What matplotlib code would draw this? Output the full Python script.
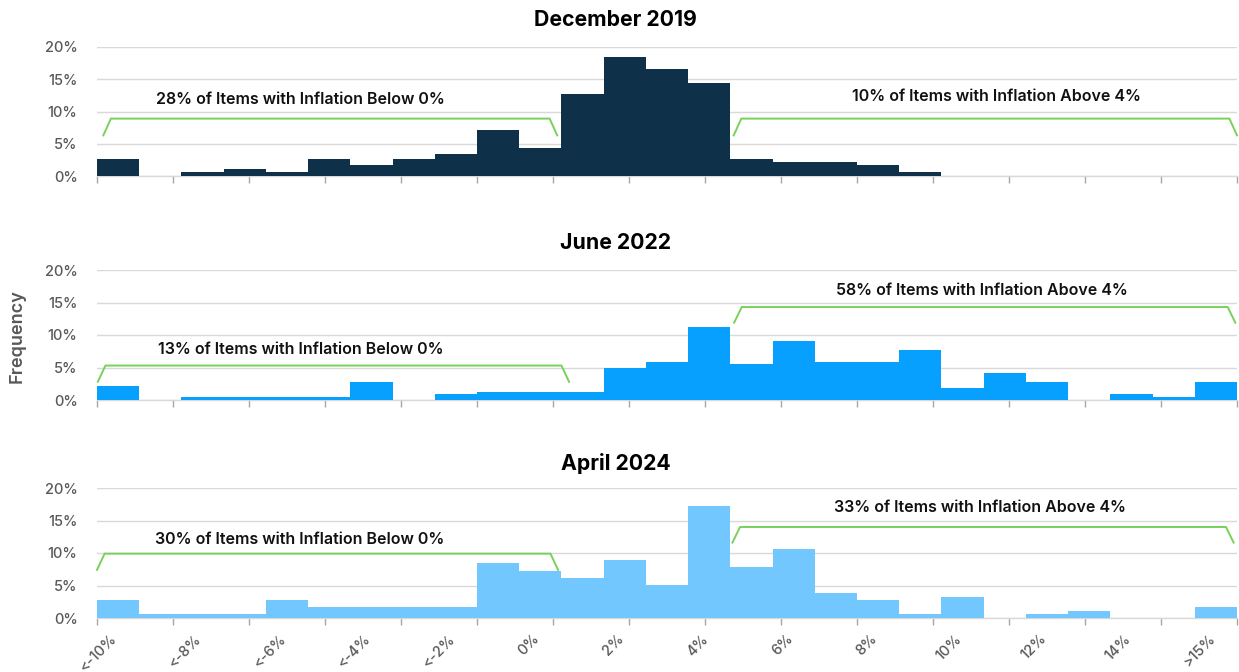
import numpy as np
import matplotlib
matplotlib.use("Agg")
import matplotlib.pyplot as plt
import matplotlib.transforms as mtransforms

plt.rcParams['font.family'] = ['Inter', 'DejaVu Sans']

# 27 bins: <-10%, -9 .. 0, 1 .. 15, >15%
bin_labels = ['<-10%', '', '<-8%', '', '<-6%', '', '<-4%', '', '<-2%', '', '0%', '',
              '2%', '', '4%', '', '6%', '', '8%', '', '10%', '', '12%', '', '14%', '', '>15%']

titles = ['December 2019', 'June 2022', 'April 2024']

dec_2019 = [2.7, 0, 0.6, 1.1, 0.6, 2.7, 1.7, 2.7, 3.4, 7.2, 4.4, 12.7, 18.4, 16.6,
            14.4, 2.7, 2.2, 2.2, 1.7, 0.6, 0, 0, 0, 0, 0, 0, 0]
jun_2022 = [2.2, 0, 0.4, 0.4, 0.4, 0.4, 2.7, 0, 0.9, 1.3, 1.3, 1.3, 5.0, 5.9,
            11.3, 5.5, 9.1, 5.9, 5.9, 7.7, 1.8, 4.1, 2.7, 0, 0.9, 0.4, 2.7]
apr_2024 = [2.8, 0.6, 0.6, 0.6, 2.8, 1.7, 1.7, 1.7, 1.7, 8.4, 7.3, 6.2, 8.9, 5.1,
            17.3, 7.8, 10.6, 3.9, 2.8, 0.6, 3.3, 0, 0.6, 1.1, 0, 0, 1.7]

below_text = ['28% of Items with Inflation Below 0%',
              '13% of Items with Inflation Below 0%',
              '30% of Items with Inflation Below 0%']
above_text = ['10% of Items with Inflation Above 4%',
              '58% of Items with Inflation Above 4%',
              '33% of Items with Inflation Above 4%']

series = [dec_2019, jun_2022, apr_2024]
colors = ['#0E3049', '#08A0FF', '#73C7FF']

# bracket: x start, x end, foot y, top y ; text: x, y
left_brackets = [(0.15, 10.9, 6.3, 8.9), (0.02, 11.18, 2.8, 5.3), (0.0, 10.92, 7.4, 9.9)]
right_brackets = [(15.08, 27.0, 6.3, 8.9), (15.09, 26.96, 11.9, 14.3), (15.05, 26.92, 11.6, 14.0)]
left_text_pos = [(4.83, 11.9), (4.83, 7.7), (4.81, 12.1)]
right_text_pos = [(21.3, 12.4), (20.96, 16.8), (20.91, 17.0)]

W, H = 1239, 672
fig = plt.figure(figsize=(W / 100, H / 100), dpi=100)

# axes rectangles in pixels: (zero line y, 20% line y)
rows = [(176, 47), (400, 270), (618, 488)]
title_y = [20, 243, 464]
x0_px, x1_px = 97, 1237

green = '#78D15A'
grey_txt = '#595959'
n = len(bin_labels)
centers = np.arange(n) + 0.5

def bracket(ax, b):
    xa, xb, yf, yt = b
    d = 0.18
    ax.plot([xa, xa + d, xb - d, xb], [yf, yt, yt, yf], color=green, lw=1.4,
            solid_joinstyle='miter', clip_on=False, zorder=4)

for i, (vals, col) in enumerate(zip(series, colors)):
    y0, y20 = rows[i]
    ax = fig.add_axes([x0_px / W, 1 - y0 / H, (x1_px - x0_px) / W, (y0 - y20) / H])
    ax.bar(centers, vals, width=1.0, color=col, linewidth=0, zorder=3)
    ax.set_xlim(0, n)
    ax.set_ylim(0, 20)

    ax.set_yticks([0, 5, 10, 15, 20])
    ax.set_yticklabels(['0%', '5%', '10%', '15%', '20%'])
    ax.tick_params(axis='y', length=0, pad=14, labelsize=10.5, labelcolor=grey_txt)
    for lab in ax.get_yticklabels():
        lab.set_fontweight('medium')
    ax.grid(axis='y', color='#D9D9D9', lw=1, zorder=0)

    for s in ['left', 'right', 'top']:
        ax.spines[s].set_visible(False)
    ax.spines['bottom'].set_color('#D9D9D9')
    ax.spines['bottom'].set_linewidth(1)

    ax.set_xticks(np.linspace(0, n, 16), minor=True)
    ax.tick_params(axis='x', which='minor', length=5, width=1, color='#A6A6A6', direction='out')
    ax.set_xticks(centers)
    if i == 2:
        ax.set_xticklabels(bin_labels, rotation=45, ha='right', rotation_mode='anchor')
        ax.tick_params(axis='x', which='major', length=0, pad=10, labelsize=10.5,
                       labelcolor=grey_txt)
        shift = mtransforms.ScaledTranslation(-8 / 100, 0, fig.dpi_scale_trans)
        for lab in ax.get_xticklabels():
            lab.set_fontweight('medium')
            lab.set_transform(lab.get_transform() + shift)
    else:
        ax.set_xticklabels([])
        ax.tick_params(axis='x', which='major', length=0)

    bracket(ax, left_brackets[i])
    bracket(ax, right_brackets[i])
    ax.text(*left_text_pos[i], below_text[i], ha='center', va='center', fontsize=11.5,
            fontweight='semibold', color='#111111', zorder=5)
    ax.text(*right_text_pos[i], above_text[i], ha='center', va='center', fontsize=11.5,
            fontweight='semibold', color='#111111', zorder=5)

    fig.text(0.497, 1 - title_y[i] / H, titles[i], ha='center', va='center',
             fontsize=15.3, fontweight='bold', color='#000000')

fig.text(17 / W, 1 - 336 / H, 'Frequency', rotation=90, ha='center', va='center',
         fontsize=13, fontweight='semibold', color=grey_txt)

fig.savefig('out.png', dpi=100)
